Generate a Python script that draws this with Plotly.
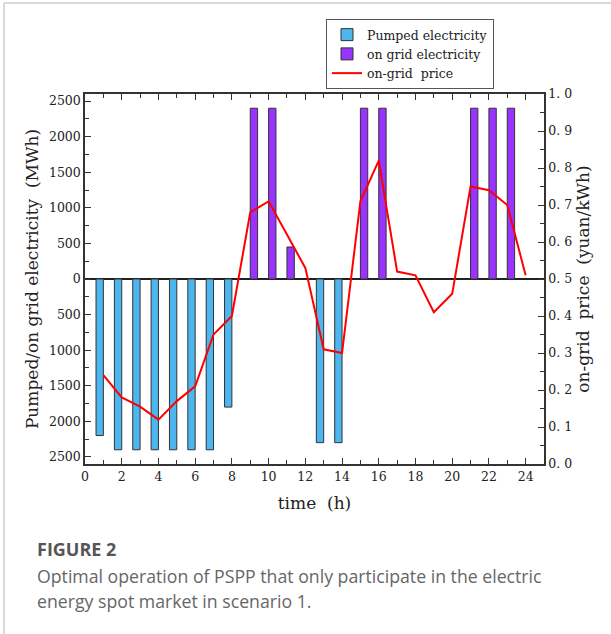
import plotly.graph_objects as go

hours = list(range(1, 25))
pumped = [2200, 2400, 2400, 2400, 2400, 2400, 2400, 1800, 0, 0, 0, 0,
          2300, 2300, 0, 0, 0, 0, 0, 0, 0, 0, 0, 0]
ongrid = [0, 0, 0, 0, 0, 0, 0, 0, 2400, 2400, 450, 0,
          0, 0, 2400, 2400, 0, 0, 0, 0, 2400, 2400, 2400, 0]
price = [0.24, 0.18, 0.155, 0.12, 0.17, 0.21, 0.35, 0.40, 0.68, 0.71, 0.62, 0.53,
         0.31, 0.30, 0.71, 0.82, 0.52, 0.51, 0.41, 0.46, 0.75, 0.74, 0.70, 0.51]

left_tickvals = [-2500, -2000, -1500, -1000, -500, 0, 500, 1000, 1500, 2000, 2500]
left_ticktext = ["2500", "2000", "1500", "1000", "500", "0", "500", "1000", "1500", "2000", "2500"]
right_tickvals = [0.0, 0.1, 0.2, 0.3, 0.4, 0.5, 0.6, 0.7, 0.8, 0.9, 1.0]
right_ticktext = ["0. 0", "0. 1", "0. 2", "0. 3", "0. 4", "0. 5", "0. 6", "0. 7", "0. 8", "0. 9", "1. 0"]
x_tickvals = list(range(0, 25, 2))

SERIF = "DejaVu Serif"
AX = "#333333"

fig = go.Figure()
fig.add_trace(go.Bar(
    x=hours, y=[-v if v else None for v in pumped], name="Pumped electricity",
    marker=dict(color="#4DB6EE", line=dict(color="#333333", width=1)),
))
fig.add_trace(go.Bar(
    x=hours, y=[v if v else None for v in ongrid], name="on grid electricity",
    marker=dict(color="#9933FF", line=dict(color="#333333", width=1)),
))
fig.add_trace(go.Scatter(
    x=hours, y=price, name="on-grid  price", mode="lines", yaxis="y2",
    line=dict(color="#FF0000", width=2),
))

W, H = 611, 634
pl, pt, pw, ph = 85, 94, 459, 370
def px(x):
    return (x - pl) / pw
def py(y):
    return (pt + ph - y) / ph

fig.update_layout(
    width=W, height=H,
    margin=dict(l=85, r=67, t=94, b=170),
    paper_bgcolor="white", plot_bgcolor="white",
    barmode="group", bargap=0.2, bargroupgap=0,
    font=dict(family=SERIF, color="#222222", size=12.5),
    showlegend=True,
    legend=dict(
        x=px(326), y=py(89), xanchor="left", yanchor="bottom",
        bordercolor="#555555", borderwidth=1, bgcolor="white",
        font=dict(family=SERIF, size=12.5, color="#222222"),
        tracegroupgap=0, itemwidth=30,
    ),
    xaxis=dict(
        range=[0, 25], tickmode="array", tickvals=x_tickvals,
        ticks="inside", ticklen=6, tickwidth=1.3, tickcolor=AX,
        minor=dict(dtick=1, ticks="inside", ticklen=4, tickcolor=AX, showgrid=False),
        showline=True, linecolor=AX, linewidth=1.5, mirror="ticks",
        showgrid=False, zeroline=False,
        title=dict(text="time  (h)", font=dict(family=SERIF, size=17), standoff=14),
        tickfont=dict(family=SERIF, size=12.5),
    ),
    yaxis=dict(
        range=[-2600, 2600], tickmode="array", tickvals=left_tickvals, ticktext=left_ticktext,
        ticks="inside", ticklen=6, tickwidth=1.3, tickcolor=AX,
        minor=dict(dtick=250, tick0=0, ticks="inside", ticklen=4, tickcolor=AX, showgrid=False),
        showline=True, linecolor=AX, linewidth=1.5, mirror=False,
        showgrid=False, zeroline=True, zerolinecolor="#222222", zerolinewidth=1.5,
        title=dict(text="Pumped/on grid electricity  (MWh)", font=dict(family=SERIF, size=17), standoff=6),
        tickfont=dict(family=SERIF, size=12.5),
    ),
    yaxis2=dict(
        range=[0, 1], overlaying="y", side="right", tickmode="array",
        tickvals=right_tickvals, ticktext=right_ticktext,
        ticks="inside", ticklen=6, tickwidth=1.3, tickcolor=AX,
        minor=dict(dtick=0.05, tick0=0, ticks="inside", ticklen=4, tickcolor=AX, showgrid=False),
        showline=True, linecolor=AX, linewidth=1.5,
        showgrid=False, zeroline=False,
        title=dict(text="on-grid  price  (yuan/kWh)", font=dict(family=SERIF, size=17), standoff=6),
        tickfont=dict(family=SERIF, size=12.5),
    ),
)

# page frame lines
fig.add_shape(type="line", xref="paper", yref="paper", x0=px(4), x1=px(4), y0=py(3), y1=py(634),
              line=dict(color="#cccccc", width=1.5))
fig.add_shape(type="line", xref="paper", yref="paper", x0=px(4), x1=px(611), y0=py(3), y1=py(3),
              line=dict(color="#cccccc", width=1.5))

fig.add_annotation(text="<b>FIGURE 2</b>", xref="paper", yref="paper", x=px(35), y=py(549),
                   xanchor="left", yanchor="middle", showarrow=False,
                   font=dict(family="Open Sans", size=18, color="#555555"))
fig.add_annotation(text="Optimal operation of PSPP that only participate in the electric",
                   xref="paper", yref="paper", x=px(35), y=py(576),
                   xanchor="left", yanchor="middle", showarrow=False,
                   font=dict(family="Open Sans", size=17.7, color="#666666"))
fig.add_annotation(text="energy spot market in scenario 1.",
                   xref="paper", yref="paper", x=px(35), y=py(601),
                   xanchor="left", yanchor="middle", showarrow=False,
                   font=dict(family="Open Sans", size=17.7, color="#666666"))

fig.write_html("out.html")
